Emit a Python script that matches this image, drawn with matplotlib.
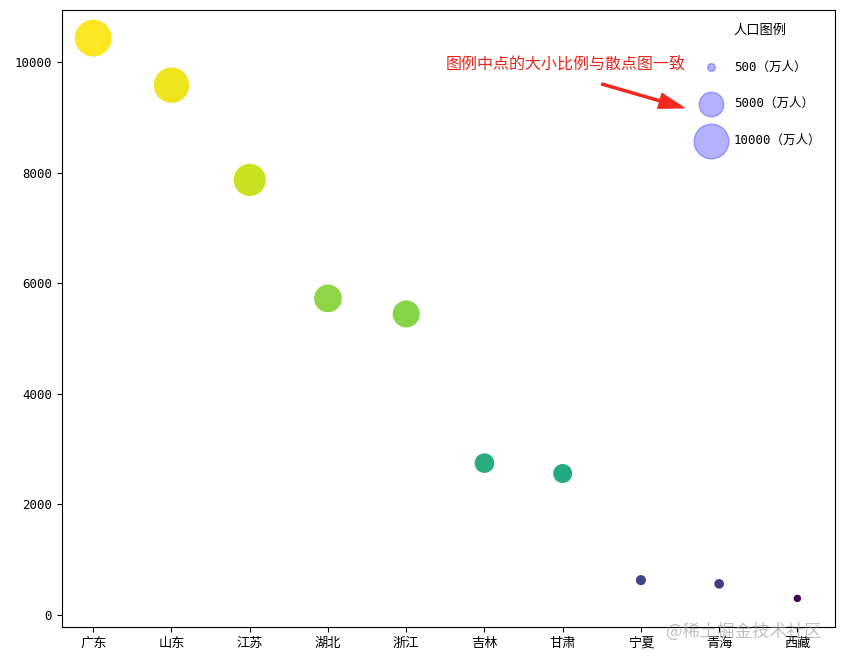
import numpy as np
import matplotlib
matplotlib.use("Agg")
import matplotlib.pyplot as plt

plt.rcParams['font.family'] = ['DejaVu Sans Mono', 'Noto Sans CJK SC']
plt.rcParams['axes.unicode_minus'] = False

# --- data: 2010 census population (万人) ---
provinces = ['广东', '山东', '江苏', '湖北', '浙江', '吉林', '甘肃', '宁夏', '青海', '西藏']
population = [10430, 9579, 7866, 5724, 5443, 2746, 2558, 630, 563, 300]
legend_sizes = [500, 5000, 10000]

pop = np.array(population)

fig = plt.figure(figsize=(8.42, 6.6), dpi=100)
ax = fig.add_axes([0.0736, 0.05, 0.918, 0.935])

ax.scatter(provinces, pop, c=np.log(pop), cmap='viridis', s=pop / 16)

# legend with size proportional markers
for a in legend_sizes:
    ax.scatter([], [], c='b', alpha=0.3, s=a / 16, label=str(a) + '（万人）')
ax.legend(scatterpoints=1, frameon=False, labelspacing=1.9, title='人口图例',
          loc='upper right', fontsize=9, title_fontsize=9.5, borderaxespad=0.7)

ax.text(4.5, 9950, '图例中点的大小比例与散点图一致', color='#e8251b',
        fontsize=11.5, va='center', ha='left', family=['Noto Sans CJK SC'])
ax.annotate('', xy=(7.55, 9170), xytext=(6.5, 9600),
            arrowprops=dict(facecolor='#f0281e', edgecolor='#f0281e',
                            width=1.5, headwidth=11, headlength=18, shrink=0))

ax.set_xlim(-0.4, 9.48)
ax.set_ylim(-217, 10940)
ax.set_yticks([0, 2000, 4000, 6000, 8000, 10000])
ax.tick_params(axis='y', labelsize=9)
ax.tick_params(axis='x', labelsize=9.5)

fig.text(0.976, 0.043, '@稀土掘金技术社区', ha='right', va='center', fontsize=12.5,
         color='#999999', alpha=0.6, family=['Noto Sans CJK SC'])

fig.savefig('out.png', dpi=100)
